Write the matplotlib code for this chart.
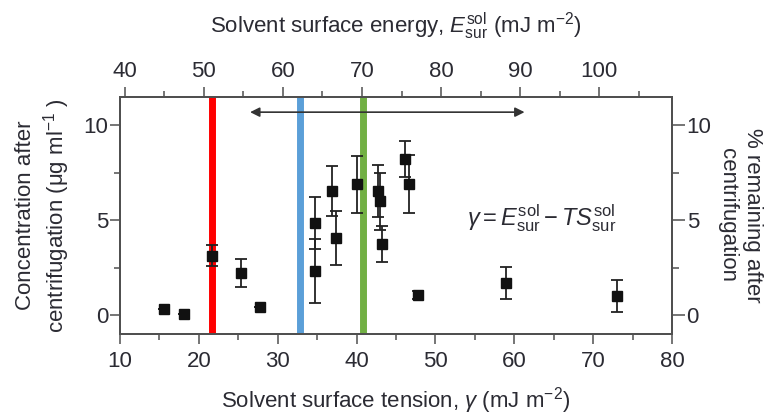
import matplotlib
matplotlib.use("Agg")
import matplotlib.pyplot as plt
from matplotlib.ticker import MultipleLocator
import numpy as np

# surface tension (mJ m^-2), concentration (ug/ml), error
gamma = [15.6, 18.1, 21.7, 25.3, 27.8, 34.7, 34.7, 36.9, 37.4, 40.0,
         42.7, 42.95, 43.2, 46.1, 46.7, 47.8, 59.0, 73.0]
conc = [0.30, 0.05, 3.12, 2.23, 0.44, 4.86, 2.32, 6.54, 4.07, 6.89,
        6.54, 6.00, 3.74, 8.24, 6.93, 1.05, 1.70, 1.02]
err = [0.0, 0.0, 0.55, 0.75, 0.0, 1.38, 1.67, 1.30, 1.41, 1.52,
       1.35, 1.50, 0.95, 0.95, 1.53, 0.20, 0.85, 0.84]

vlines = [21.7, 32.8, 40.8]
vcolors = ["#ff0000", "#5b9fd8", "#72b044"]

top_ticks = [40, 50, 60, 70, 80, 90, 100]
top_lim = (39.4, 109.2)

fam = ["Liberation Sans Narrow", "Liberation Sans", "DejaVu Sans"]
plt.rcParams["font.family"] = fam
plt.rcParams["mathtext.fontset"] = "custom"
plt.rcParams["mathtext.rm"] = "Liberation Sans"
plt.rcParams["mathtext.it"] = "Liberation Sans:italic"
tc = "#2b2b33"
sc = "#505050"

fig = plt.figure(figsize=(7.76, 4.15), dpi=100)
ax = fig.add_axes([0.1546, 0.1952, 0.7114, 0.5711])

for xv, c in zip(vlines, vcolors):
    ax.axvline(xv, color=c, lw=5, zorder=1)

ax.errorbar(gamma, conc, yerr=err, fmt="s", color="#111111", ms=7.5,
            ecolor="#222222", elinewidth=1.3, capsize=4.5, capthick=1.3, zorder=3)

ax.annotate("", xy=(26.5, 10.7), xytext=(61.3, 10.7),
            arrowprops=dict(arrowstyle="<|-|>", color="#333333", lw=1.2,
                            mutation_scale=14, shrinkA=0, shrinkB=0))

ax.text(63.5, 5.1, r"$\gamma = E^{\rm sol}_{\rm sur} - TS^{\rm sol}_{\rm sur}$",
        fontsize=17, color=tc, ha="center", va="center")

ax.set_xlim(10, 80)
ax.set_ylim(-1.0, 11.5)
ax.xaxis.set_major_locator(MultipleLocator(10))
ax.xaxis.set_minor_locator(MultipleLocator(5))
ax.yaxis.set_major_locator(MultipleLocator(5))
ax.yaxis.set_minor_locator(MultipleLocator(2.5))
ax.tick_params(which="major", direction="out", length=7.5, width=1.1,
               color=sc, labelsize=16, labelcolor=tc)
ax.tick_params(which="minor", direction="out", length=4.3, width=1.1, color=sc)
ax.tick_params(axis="y", pad=1)
ax.tick_params(axis="x", pad=5)

ax.set_xlabel(r"Solvent surface tension, $\gamma$ (mJ m$^{-2}$)",
              fontsize=16, color=tc, labelpad=9)
ax.set_ylabel("Concentration after\ncentrifugation (\u03bcg ml$^{-1}$ )",
              fontsize=16, color=tc, labelpad=8, linespacing=1.25)

# top axis: surface energy
axt = ax.twiny()
axt.set_xlim(*top_lim)
axt.set_xticks(top_ticks)
axt.xaxis.set_minor_locator(MultipleLocator(5))
axt.tick_params(which="major", direction="out", length=7, width=1.1,
                color=sc, labelsize=16, labelcolor=tc, pad=4)
axt.tick_params(which="minor", direction="out", length=4.3, width=1.1, color=sc)
axt.set_xlabel(r"Solvent surface energy, $E^{\rm sol}_{\rm sur}$ (mJ m$^{-2}$)",
               fontsize=16, color=tc, labelpad=20)

# right axis: % remaining
axr = ax.twinx()
axr.set_ylim(-1.0, 11.5)
axr.yaxis.set_major_locator(MultipleLocator(5))
axr.yaxis.set_minor_locator(MultipleLocator(2.5))
axr.tick_params(which="major", direction="out", length=9.5, width=1.1,
                color=sc, labelsize=16, labelcolor=tc, pad=1)
axr.tick_params(which="minor", direction="out", length=5, width=1.1, color=sc)
axr.set_ylabel("% remaining after\ncentrifugation", fontsize=16, color=tc,
               rotation=270, labelpad=37, linespacing=1.25)

for a in (ax, axt, axr):
    for s in a.spines.values():
        s.set_color(sc)
        s.set_linewidth(1.2)

fig.savefig("out.png", dpi=100)
